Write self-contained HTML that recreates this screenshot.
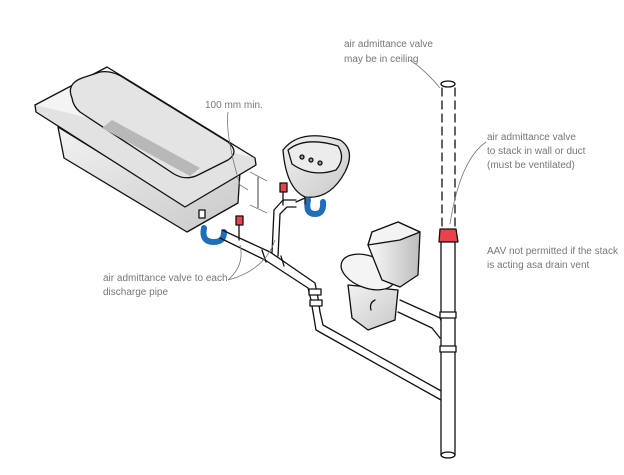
<!DOCTYPE html>
<html><head><style>
body{margin:0;background:#fff;}
svg{display:block}
text{font-family:"Liberation Sans",sans-serif;font-size:10px;fill:#777;}
</style></head><body>
<svg width="624" height="475" viewBox="0 0 624 475">
<defs>
<linearGradient id="g1" x1="0" y1="0" x2="1" y2="1"><stop offset="0" stop-color="#f2f2f2"/><stop offset="1" stop-color="#c9c9c9"/></linearGradient>
<linearGradient id="g2" x1="0" y1="0" x2="1" y2="0"><stop offset="0" stop-color="#fafafa"/><stop offset="1" stop-color="#bdbdbd"/></linearGradient>
</defs>
<g stroke="#111" stroke-width="1.3" fill="none" stroke-linejoin="round" stroke-linecap="round">
<!-- bath body -->
<path d="M58,127 L64,158 L187,232 L238,203 L240,172 L185,205 Z" fill="url(#g1)"/>
<!-- rim -->
<path d="M35,105 L107,67 L255,158 L185,200 Z" fill="#f4f4f4"/>
<path d="M35,105 L36,112 L185,207 L256,165 L255,158" fill="#e2e2e2"/>
<path d="M72,98 Q66,84 82,78 L100,72 Q112,70 124,78 L228,142 Q240,152 228,160 L198,175 Q186,181 174,174 L80,112 Q73,106 72,98 Z" fill="#e4e4e4"/>
<path d="M102,128 L112,120 L200,168 L190,176 Z" fill="#b8b8b8" stroke="none"/>
<!-- bath overflow -->
<rect x="199" y="210" width="6" height="8" fill="#fff"/>
<!-- bath trap -->
<path d="M204,228 q-3,14 10,14 q10,0 10,-10" stroke="#1f6fb8" stroke-width="6"/>
<!-- pipe bath -> junction -->
<path d="M222,230 L270,252 L315,283 L318,298 L320,312" fill="none"/>
<path d="M220,238 L265,260 L308,288 L311,300 L313,312"/>
<rect x="236" y="216" width="7" height="9" fill="#e8434a"/>
<line x1="239" y1="225" x2="239" y2="240"/>
<!-- vertical from sink -->
<path d="M272,253 L274,210 L283,200 L296,200"/>
<path d="M278,256 L280,214 L287,207 L296,207"/>
<rect x="280" y="183" width="7" height="9" fill="#e8434a"/>
<line x1="283" y1="192" x2="283" y2="205"/>
<line x1="262" y1="250" x2="266" y2="262"/>
<line x1="281" y1="256" x2="284" y2="266"/>
<!-- sink -->
<path d="M283,150 Q300,128 340,140 Q356,150 345,172 Q330,200 305,197 Q286,188 283,150 Z" fill="url(#g1)"/>
<path d="M288,150 Q305,136 338,146 Q346,158 336,170 Q312,178 292,164 Z" fill="#ececec"/>
<circle cx="302" cy="157" r="2" fill="#999"/><circle cx="311" cy="160" r="2" fill="#999"/><circle cx="320" cy="163" r="2" fill="#999"/>
<path d="M308,200 q-3,14 7,14 q9,0 8,-12" stroke="#1f6fb8" stroke-width="6"/>
<path d="M296,202 L305,198 L305,204"/>
<!-- lower pipe to stack -->
<path d="M320,312 L323,325 L443,392"/>
<path d="M313,312 L316,330 L441,400"/>
<rect x="309" y="289" width="12" height="6" fill="#fff"/>
<rect x="310" y="300" width="12" height="6" fill="#fff"/>
<!-- toilet -->
<path d="M348,285 L352,318 L368,330 L395,320 L398,290 Z" fill="url(#g1)"/>
<ellipse cx="368" cy="272" rx="28" ry="16" transform="rotate(20 368 272)" fill="#f4f4f4"/>
<path d="M368,245 L372,232 L398,222 L420,232 L418,275 L400,287 L382,280 Z" fill="url(#g2)"/>
<path d="M368,245 L372,232 L398,222 L420,232 L400,240 Z" fill="#f3f3f3"/>
<path d="M375,300 q-6,3 -4,10"/>
<!-- toilet outlet -->
<path d="M400,300 L440,318 L445,330"/>
<path d="M398,312 L432,328 L440,338"/>
<!-- stack -->
<rect x="441" y="240" width="14" height="215" fill="#fff"/>
<ellipse cx="448" cy="455" rx="7" ry="3" fill="#fff"/>
<rect x="440" y="312" width="16" height="6" fill="#fff"/>
<rect x="440" y="346" width="16" height="6" fill="#fff"/>
<path d="M440,229 L456,229 L458,242 L439,242 Z" fill="#e8434a"/>
<line x1="442" y1="88" x2="442" y2="226" stroke-dasharray="8,5"/>
<line x1="455" y1="88" x2="455" y2="226" stroke-dasharray="8,5"/>
<ellipse cx="448" cy="84" rx="7" ry="3" fill="#fff"/>
</g>
<!-- leaders -->
<g stroke="#777" stroke-width="0.8" fill="none">
<path d="M410,60 Q425,70 440,88"/>
<path d="M486,142 Q460,160 450,224"/>
<path d="M228,112 Q225,135 240,185 L248,190"/>
<path d="M228,280 Q245,265 240,245"/>
<path d="M228,280 Q265,270 275,240"/>
<line x1="250" y1="172" x2="267" y2="181"/><line x1="250" y1="205" x2="267" y2="213"/>
<line x1="258" y1="177" x2="258" y2="208" stroke="#111"/>
</g>
<text x="344" y="47">air admittance valve</text>
<text x="344" y="62">may be in ceiling</text>
<text x="205" y="108">100 mm min.</text>
<text x="103" y="281">air admittance valve to each</text>
<text x="103" y="295">discharge pipe</text>
<text x="487" y="140">air admittance valve</text>
<text x="487" y="154">to stack in wall or duct</text>
<text x="487" y="168">(must be ventilated)</text>
<text x="487" y="254">AAV not permitted if the stack</text>
<text x="487" y="268">is acting asa drain vent</text>
</svg>
</body></html>
